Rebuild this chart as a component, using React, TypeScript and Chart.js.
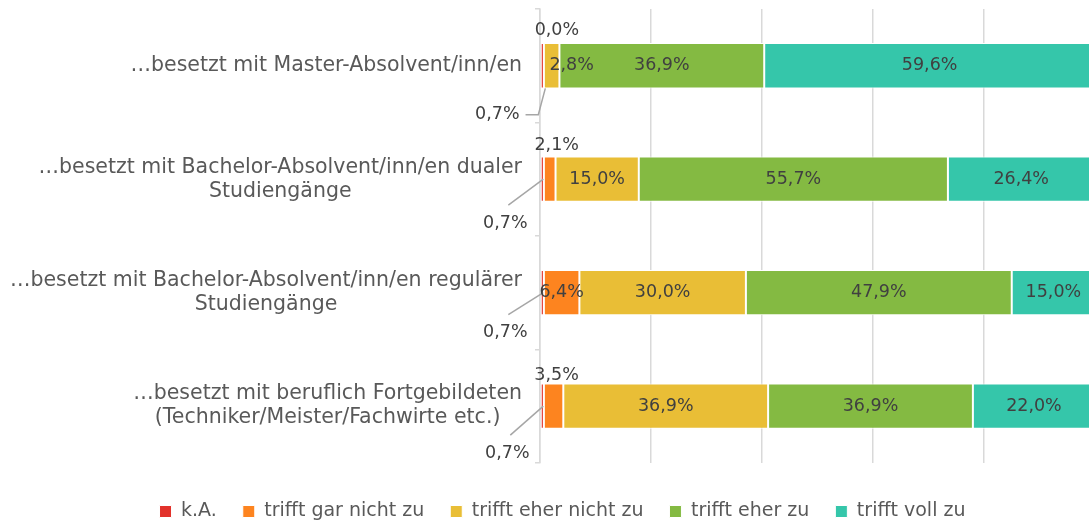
import React, { useEffect, useRef } from 'react';
import { Chart, registerables } from 'chart.js';

Chart.register(...registerables);

// ---------- data ----------
const categories: string[][] = [
  ['…besetzt mit Master-Absolvent/inn/en'],
  ['…besetzt mit Bachelor-Absolvent/inn/en dualer', 'Studiengänge'],
  ['…besetzt mit Bachelor-Absolvent/inn/en regulärer', 'Studiengänge'],
  ['…besetzt mit beruflich Fortgebildeten', '(Techniker/Meister/Fachwirte etc.)'],
];
const seriesNames = ['k.A.', 'trifft gar nicht zu', 'trifft eher nicht zu', 'trifft eher zu', 'trifft voll zu'];
const kA = [0.7, 0.7, 0.7, 0.7];
const garNicht = [0.0, 2.1, 6.4, 3.5];
const eherNicht = [2.8, 15.0, 30.0, 36.9];
const eherZu = [36.9, 55.7, 47.9, 36.9];
const vollZu = [59.6, 26.4, 15.0, 22.0];
const xTickValues = [0, 20, 40, 60, 80, 100];

// ---------- styles ----------
const seriesColors = ['#E2322B', '#FD841F', '#E9BE36', '#84BA42', '#35C6AA'];
const FONT = '"DejaVu Sans"';
const LABEL_COLOR = '#404040';
const CAT_COLOR = '#595959';
const GRID = '#D9D9D9';

// label placement tweaks (pixel offsets from segment centre)
const kaCallouts = [
  { dx: -45, dy: 49, elbow: true },
  { dx: -37, dy: 44, elbow: false },
  { dx: -37, dy: 40, elbow: false },
  { dx: -35, dy: 47, elbow: false },
];
const labelShift: Record<string, { dx: number; dy: number }> = {
  '1-0': { dx: 13, dy: -35 },
  '1-1': { dx: 7, dy: -34 },
  '1-3': { dx: 3, dy: -31 },
  '2-0': { dx: 20, dy: 0 },
};

const fmt = (v: number) => v.toFixed(1).replace('.', ',') + '%';

const labelsPlugin = {
  id: 'customLabels',
  afterDatasetsDraw(chart: any) {
    const ctx = chart.ctx;
    ctx.save();
    ctx.font = `17.5px ${FONT}`;
    ctx.fillStyle = LABEL_COLOR;
    ctx.textBaseline = 'middle';
    ctx.textAlign = 'center';
    chart.data.datasets.forEach((ds: any, d: number) => {
      const meta = chart.getDatasetMeta(d);
      meta.data.forEach((el: any, i: number) => {
        const v = ds.data[i];
        const cx = (el.x + el.base) / 2;
        const cy = el.y;
        const text = fmt(v);
        if (d === 0) {
          const c = kaCallouts[i];
          const tx = cx + c.dx;
          const ty = cy + c.dy;
          ctx.fillText(text, tx, ty);
          const w = ctx.measureText(text).width;
          ctx.save();
          ctx.strokeStyle = '#A6A6A6';
          ctx.lineWidth = 1.5;
          ctx.beginPath();
          if (c.elbow) {
            ctx.moveTo(tx + w / 2 + 6, ty);
            ctx.lineTo(cx - 4, ty);
            ctx.lineTo(cx + 3, cy + el.height / 2);
          } else {
            ctx.moveTo(tx + 3, ty - 18);
            ctx.lineTo(cx + 1, cy);
          }
          ctx.stroke();
          ctx.restore();
          return;
        }
        const s = labelShift[`${d}-${i}`] || { dx: 0, dy: 0 };
        ctx.fillText(text, cx + s.dx, cy + s.dy);
      });
    });
    ctx.restore();
  },
  afterDraw(chart: any) {
    const ctx = chart.ctx;
    const y = chart.scales.y;
    const right = chart.chartArea.left - 18;
    ctx.save();
    ctx.font = `20.5px ${FONT}`;
    ctx.fillStyle = CAT_COLOR;
    ctx.textBaseline = 'middle';
    ctx.textAlign = 'center';
    categories.forEach((lines, i) => {
      const py = y.getPixelForValue(i);
      const maxW = Math.max(...lines.map((l) => ctx.measureText(l).width));
      const cx = right - maxW / 2;
      const lh = 24;
      const start = py - ((lines.length - 1) * lh) / 2;
      lines.forEach((l, k) => ctx.fillText(l, cx, start + k * lh));
    });
    ctx.restore();
  },
};

const LEFT_PAD = 30;

export default function App() {
  const ref = useRef<HTMLCanvasElement | null>(null);
  useEffect(() => {
    if (!ref.current) return;
    const series = [kA, garNicht, eherNicht, eherZu, vollZu];
    const chart = new Chart(ref.current, {
      type: 'bar',
      data: {
        labels: categories.map((c) => c.join(' ')),
        datasets: series.map((data, k) => ({
          label: seriesNames[k],
          data,
          backgroundColor: seriesColors[k],
          borderColor: '#ffffff',
          borderWidth: 1,
          borderSkipped: false,
          barPercentage: 0.4,
          categoryPercentage: 1,
        })),
      },
      options: {
        indexAxis: 'y',
        animation: false,
        responsive: true,
        maintainAspectRatio: false,
        layout: { padding: { top: 9, left: LEFT_PAD, right: 5, bottom: 1 } },
        scales: {
          x: {
            stacked: true,
            min: 0,
            max: 100,
            afterBuildTicks: (scale: any) => {
              scale.ticks = xTickValues.map((v) => ({ value: v }));
            },
            ticks: { display: false },
            grid: { color: GRID, lineWidth: 1.5, drawTicks: false },
            border: { display: false },
          },
          y: {
            stacked: true,
            ticks: { display: false },
            grid: { offset: true, drawOnChartArea: false, color: GRID, lineWidth: 1.5, tickLength: 5 },
            border: { color: GRID, width: 1.5 },
            afterFit: (scale: any) => {
              scale.width = 540 - LEFT_PAD;
            },
          },
        },
        plugins: {
          tooltip: { enabled: false },
          legend: {
            position: 'bottom',
            title: { display: true, text: '', font: { size: 1 }, padding: { top: 12, bottom: 0 } },
            labels: {
              boxWidth: 12,
              boxHeight: 12,
              padding: 26,
              color: CAT_COLOR,
              font: { family: FONT, size: 19 },
            },
          },
        },
      },
      plugins: [labelsPlugin],
    } as any);
    return () => chart.destroy();
  }, []);

  return (
    <div style={{ position: 'fixed', left: 0, top: 0, width: 1089, height: 520, overflow: 'hidden', background: '#fff' }}>
      <div style={{ position: 'relative', width: 1100, height: 532 }}>
        <canvas ref={ref} />
      </div>
    </div>
  );
}
